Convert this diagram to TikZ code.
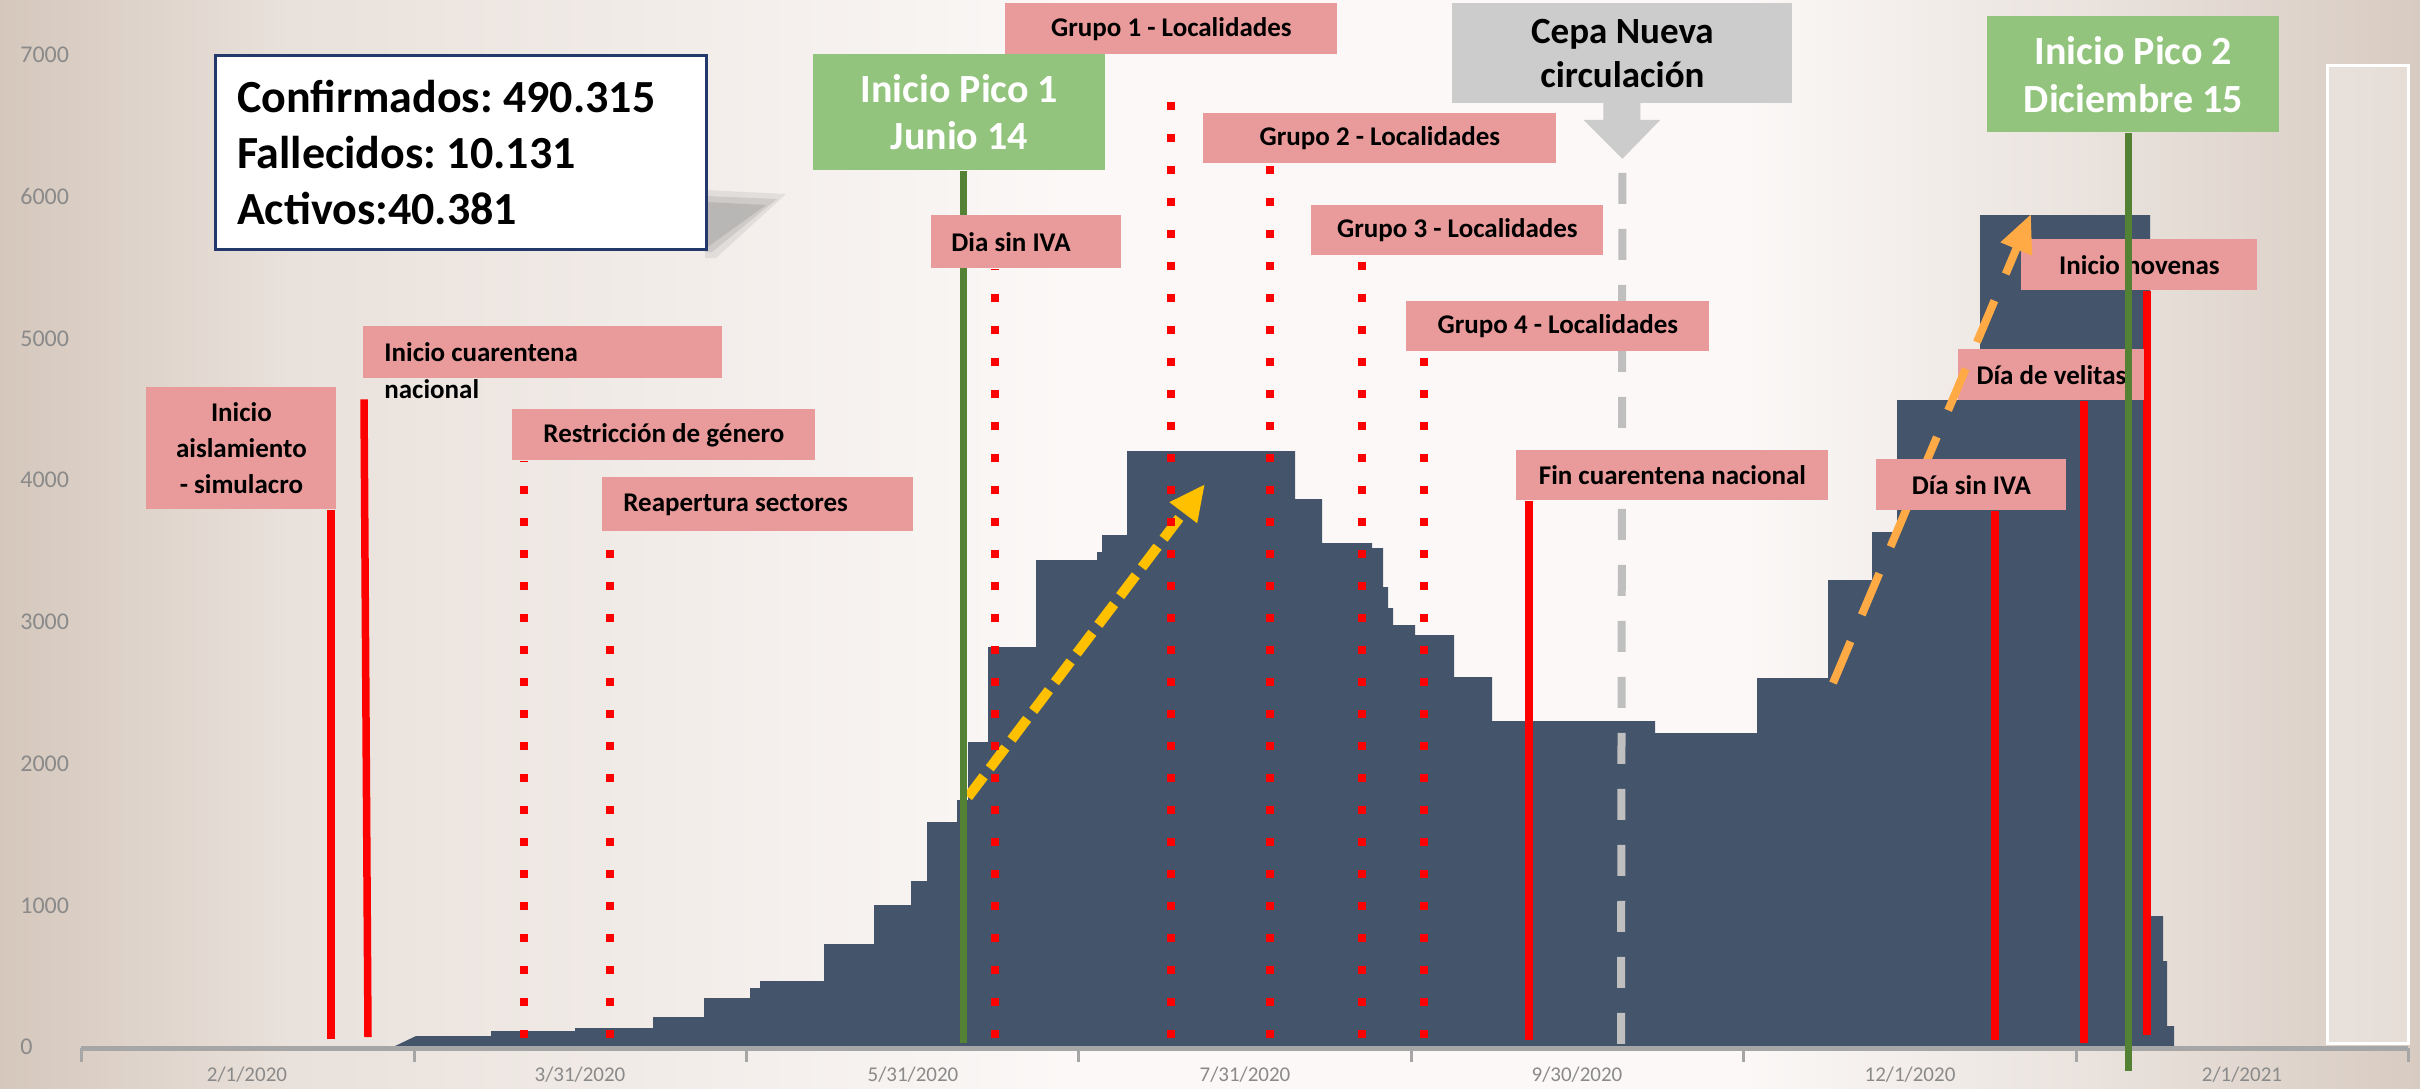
\documentclass[tikz,border=0pt]{standalone}
\usepackage{fontspec}
\setmainfont{Carlito}
\usepackage{xcolor}
\usetikzlibrary{arrows.meta,positioning,calc}
\pgfdeclarelayer{bg}
\pgfdeclarelayer{lines}
\pgfdeclarelayer{front}
\pgfsetlayers{bg,lines,main,front}
\definecolor{barblue}{HTML}{44546A}
\definecolor{boxpink}{HTML}{E99A9A}
\definecolor{picogreen}{HTML}{93C47D}
\definecolor{linegreen}{HTML}{548235}
\definecolor{cepagray}{HTML}{CCCCCC}
\definecolor{dashgray}{HTML}{BFBFBF}
\definecolor{navy}{HTML}{23396B}
\definecolor{gold}{HTML}{FFC000}
\definecolor{orangeline}{HTML}{FFAA44}
\definecolor{axisgray}{HTML}{A6A6A6}
\definecolor{labelgray}{HTML}{8A8A8A}
\definecolor{bgtan}{HTML}{D5C7BC}
\definecolor{bgmid}{HTML}{E9E1DB}
\definecolor{bgwhite}{HTML}{FBF8F7}
\definecolor{bgright}{HTML}{EAE3DE}
\definecolor{bgtanr}{HTML}{D8CBC1}
\pgfdeclarehorizontalshading{bgshade}{100bp}{color(0bp)=(bgtan); color(25bp)=(bgtan); color(31bp)=(bgmid); color(47bp)=(bgwhite); color(61bp)=(bgwhite); color(68bp)=(bgright); color(75bp)=(bgtanr); color(100bp)=(bgtanr)}
\frenchspacing

\begin{document}
\begin{tikzpicture}[x=0.5pt, y=-0.5pt,
    pinkbox/.style={fill=boxpink, inner sep=0pt, anchor=north west, align=center,
      font=\bfseries\fontsize{13.5}{18}\selectfont},
    picobox/.style={fill=picogreen, text=white, inner sep=0pt, anchor=north west, align=center,
      minimum width=146pt, minimum height=58pt, font=\bfseries\fontsize{20}{23.5}\selectfont},
    redline/.style={draw=red, line width=3.75pt},
    dotline/.style={draw=red, line width=4pt, dash pattern=on 4pt off 12pt},
    greenline/.style={draw=linegreen, line width=3.5pt},
    ylab/.style={anchor=west, inner sep=0pt, text=labelgray, font=\fontsize{12}{14}\selectfont},
    xlab/.style={inner sep=0pt, text=labelgray, font=\fontsize{10.5}{12}\selectfont}]
  \useasboundingbox (0,0) rectangle (2420,1088);

  \begin{pgfonlayer}{bg}
    \shade[shading=bgshade] (0,0) rectangle (2420,1088);
    \draw[white, line width=1.5pt, fill=white, fill opacity=0.35] (2327,65) rectangle (2408,1043);
    % cases
    \fill[barblue] (393,1047) -- (416,1036) -| (491,1031) -| (575,1028) -| (653,1017) -| (704,998)
      -| (750,988) -| (760,981) -| (824,944) -| (874,905) -| (911,881) -| (927,822) -| (957,800)
      -| (968,742) -| (988,647) -| (1036,560) -| (1097,552) -| (1102,535) -| (1127,451) -| (1295,499)
      -| (1322,543) -| (1372,548) -| (1383,587) -| (1388,608) -| (1393,625) -| (1415,635) -| (1454,677)
      -| (1492,721) -| (1655,733) -| (1757,678) -| (1828,580) -| (1872,532) -| (1897,400) -| (1980,215)
      -| (2150,916) -| (2163,961) -| (2167,1026) -| (2174,1047) -- cycle;
    % axes
    \draw[axisgray, line width=2.5pt] (81,1048) -- (2408,1048);
    \foreach \t in {81,414,746,1078,1411,1743,2076,2408}
      \draw[axisgray, line width=1.5pt] (\t,1048) -- (\t,1062);
    \foreach \x/\d [count=\i] in {247/{2/1/2020},580/{3/31/2020},913/{5/31/2020},1245/{7/31/2020},
        1577/{9/30/2020},1910/{12/1/2020},2242/{2/1/2021}}
      \node[xlab] (xl\i) at (\x,1075) {\d};
    \foreach \v in {0,1000,...,7000}
      \node[ylab] (yl\v) at (20,{1047-0.1417*\v}) {\v};
    % shadow of the totals box
    \fill[gray, opacity=0.15] (705,190) -- (786,194) -- (716,258) -- (705,258) -- cycle;
    \fill[gray, opacity=0.2] (705,196) -- (777,199) -- (712,252) -- (705,252) -- cycle;
    \fill[gray, opacity=0.25] (705,202) -- (766,205) -- (709,246) -- (705,246) -- cycle;
  \end{pgfonlayer}

  % Totals
  \node[draw=navy, line width=1.5pt, fill=white, anchor=north west, minimum width=245.5pt,
    minimum height=97pt, inner xsep=10.5pt, inner ysep=0pt, text width=224pt, align=flush left,
    font=\bfseries\fontsize{23}{28}\selectfont] (info) at (214,54)
    {Confirmados: 490.315\\Fallecidos: 10.131\\Activos:40.381};

  % Peaks and new strain
  \node[picobox] (pico1) at (813,54) {Inicio Pico 1\\Junio 14};
  \node[picobox, font=\bfseries\fontsize{20}{24}\selectfont] (pico2) at (1987,16) {Inicio Pico 2\\Diciembre 15};
  \node[fill=cepagray, anchor=north west, inner sep=0pt, minimum width=170pt, minimum height=50pt,
    align=center, font=\bfseries\fontsize{18.5}{22}\selectfont] (cepa) at (1452,3) {Cepa Nueva\\circulación};
  \coordinate (cepatip) at ($(cepa.south)+(0,55)$);
  \fill[cepagray] ($(cepa.south)+(-19,-1)$) -- ($(cepa.south)+(-19,16)$) -- ($(cepa.south)+(-39,16)$)
    -- (cepatip) -- ($(cepa.south)+(38,16)$) -- ($(cepa.south)+(18,16)$) -- ($(cepa.south)+(18,-1)$) -- cycle;

  % Events
  \node[pinkbox, minimum width=95pt, minimum height=61pt] (aisl) at (146,387) {Inicio\\aislamiento\\- simulacro};
  \node[pinkbox, minimum width=179.5pt, minimum height=26pt, inner xsep=10.5pt, text width=158.5pt,
    align=flush left] (cuar) at (363,326) {Inicio cuarentena};
  \node[anchor=west, inner sep=0pt, font=\bfseries\fontsize{13.5}{18}\selectfont] (nac)
    at ($(cuar.west)+(21,37)$) {nacional};
  \node[pinkbox, minimum width=151.5pt, minimum height=25.5pt] (restr) at (512,409) {Restricción de género};
  \node[pinkbox, minimum width=155.5pt, minimum height=27pt, inner xsep=10.5pt, text width=134.5pt,
    align=flush left] (reap) at (602,477) {Reapertura sectores};
  \node[pinkbox, minimum width=95pt, minimum height=26.5pt, inner xsep=10pt, text width=75pt,
    align=flush left] (diasin1) at (931,215) {Dia sin IVA};
  \node[pinkbox, minimum width=166pt, minimum height=25.5pt] (grupo1) at (1005,3) {Grupo 1 - Localidades};
  \node[pinkbox, minimum width=176.5pt, minimum height=25pt] (grupo2) at (1203,113) {Grupo 2 - Localidades};
  \node[pinkbox, minimum width=146pt, minimum height=25pt] (grupo3) at (1311,205) {Grupo 3 - Localidades};
  \node[pinkbox, minimum width=151.5pt, minimum height=25pt] (grupo4) at (1406,301) {Grupo 4 - Localidades};
  \node[pinkbox, minimum width=156pt, minimum height=25pt] (fin) at (1516,450) {Fin cuarentena nacional};
  \node[pinkbox, minimum width=118pt, minimum height=25.5pt] (novenas) at (2021,239) {Inicio novenas};
  \node[pinkbox, minimum width=93pt, minimum height=25.5pt] (velitas) at (1958,349) {Día de velitas};
  % second rise
  \draw[orangeline, line width=4pt, dash pattern=on 22.5pt off 14.5pt,
    -{Triangle[length=19pt, width=16pt]}] (1833,683) -- (2031,214);
  \node[pinkbox, minimum width=95pt, minimum height=25.5pt] (diasin2) at (1876,459) {Día sin IVA};

  \begin{pgfonlayer}{lines}
    % first rise
    \draw[gold, line width=5pt, dash pattern=on 13pt off 5pt,
      -{Triangle[length=18pt, width=16pt]}] (968,797) -- (1205,484);
    \coordinate (red1base) at (331,1039);
    \coordinate (red2base) at (368,1037);
    \coordinate (dot1base) at (524,1038);
    \coordinate (dot2base) at (610,1038);
    \coordinate (dot3base) at (995,1038);
    \coordinate (g1base) at (1171,1038);
    \coordinate (g2base) at (1270,1038);
    \coordinate (g3base) at (1362,1038);
    \coordinate (g4base) at (1424,1038);
    \coordinate (finbase) at (1529,1040);
    \coordinate (cepabase) at (1621,1045);
    \coordinate (dia2base) at (1995,1040);
    \coordinate (velbase) at (2084,1043);
    \coordinate (novbase) at (2147,1035);
    \coordinate (p1base) at (963,1043);
    \draw[redline] (aisl.south -| red1base) -- (red1base);
    \draw[redline] ($(nac.south west)+(-20,0)$) -- (red2base);
    \draw[dotline] (dot1base) -- (restr.south -| dot1base);
    \draw[dotline] (dot2base) -- (reap.south -| dot2base);
    \draw[dotline] (dot3base) -- (diasin1.south -| dot3base);
    \draw[dotline] (g1base) -- ($(grupo1.south -| g1base)+(0,46)$);
    \draw[dotline] (g2base) -- (grupo2.south -| g2base);
    \draw[dotline] (g3base) -- (grupo3.south -| g3base);
    \draw[dotline] (g4base) -- (grupo4.south -| g4base);
    \draw[dashgray, line width=4pt, dash pattern=on 15.5pt off 12.5pt] ($(cepatip)+(0,14)$) -- (cepabase);
    \draw[redline] (fin.south -| finbase) -- (finbase);
    \draw[redline] (diasin2.south -| dia2base) -- (dia2base);
    \draw[redline] (velitas.south -| velbase) -- (velbase);
    \draw[redline] (novenas.south -| novbase) -- (novbase);
    \draw[greenline] (pico1.south -| p1base) -- (p1base);
  \end{pgfonlayer}

  \begin{pgfonlayer}{front}
    \coordinate (p2base) at (2128,1071);
    \draw[greenline] (pico2.south -| p2base) -- (p2base);
  \end{pgfonlayer}
\end{tikzpicture}
\end{document}
